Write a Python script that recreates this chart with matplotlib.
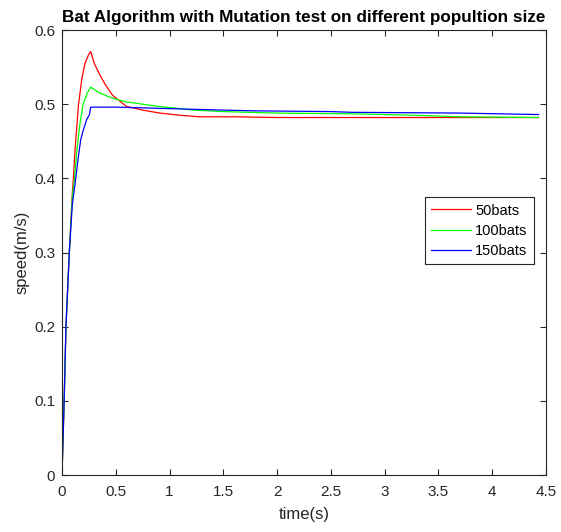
import matplotlib
matplotlib.use("Agg")
import matplotlib.pyplot as plt

plt.rcParams['font.family'] = ['Liberation Sans', 'DejaVu Sans']

# 50 bats
t50 = [0, 0.02, 0.037, 0.068, 0.096, 0.105, 0.121, 0.152, 0.183, 0.214, 0.245, 0.267,
       0.3, 0.35, 0.4, 0.47, 0.6, 0.75, 0.91, 1.1, 1.28, 1.6, 2.0, 2.7, 3.0, 3.7, 4.43]
v50 = [0, 0.1, 0.2, 0.3, 0.38, 0.398, 0.438, 0.497, 0.533, 0.555, 0.566, 0.571,
       0.555, 0.54, 0.527, 0.512, 0.497, 0.492, 0.488, 0.485, 0.483, 0.483, 0.482,
       0.482, 0.482, 0.482, 0.482]

# 100 bats
t100 = [0, 0.02, 0.037, 0.068, 0.096, 0.115, 0.136, 0.167, 0.198, 0.235, 0.267, 0.35,
        0.47, 0.6, 0.9, 1.22, 1.5, 2.0, 2.7, 3.3, 3.7, 4.43]
v100 = [0, 0.1, 0.2, 0.3, 0.375, 0.398, 0.434, 0.474, 0.501, 0.515, 0.523, 0.515,
        0.508, 0.503, 0.497, 0.492, 0.49, 0.488, 0.487, 0.485, 0.483, 0.482]

# 150 bats
t150 = [0, 0.02, 0.037, 0.068, 0.096, 0.121, 0.152, 0.174, 0.198, 0.229, 0.255, 0.267,
        0.5, 1.0, 1.5, 1.8, 2.5, 2.7, 3.7, 4.43]
v150 = [0, 0.1, 0.2, 0.3, 0.365, 0.392, 0.429, 0.452, 0.465, 0.479, 0.486, 0.496,
        0.496, 0.494, 0.492, 0.491, 0.490, 0.489, 0.488, 0.486]

xticks = [0, 0.5, 1, 1.5, 2, 2.5, 3, 3.5, 4, 4.5]
xticklabels = ['0', '0.5', '1', '1.5', '2', '2.5', '3', '3.5', '4', '4.5']
yticks = [0, 0.1, 0.2, 0.3, 0.4, 0.5, 0.6]
yticklabels = ['0', '0.1', '0.2', '0.3', '0.4', '0.5', '0.6']

fig = plt.figure(figsize=(5.61, 5.32), dpi=100)
ax = fig.add_axes([0.1105, 0.1071, 0.8628, 0.8365])

ax.plot(t50, v50, color='#ff0000', lw=0.9, label='50bats')
ax.plot(t100, v100, color='#00ff00', lw=0.9, label='100bats')
ax.plot(t150, v150, color='#0000ff', lw=0.9, label='150bats')

ax.set_xlim(0, 4.5)
ax.set_ylim(0, 0.6)
ax.set_xticks(xticks)
ax.set_xticklabels(xticklabels)
ax.set_yticks(yticks)
ax.set_yticklabels(yticklabels)
ax.tick_params(direction='in', top=True, right=True, labelsize=11,
               colors='#262626', length=4, width=0.8)
ax.tick_params(axis='x', pad=7)
ax.tick_params(axis='y', pad=5)
for s in ax.spines.values():
    s.set_color('#262626')
    s.set_linewidth(0.8)

ax.set_xlabel('time(s)', fontsize=12, color='#262626', labelpad=6)
ax.set_ylabel('speed(m/s)', fontsize=12, color='#262626', labelpad=3)
ax.set_title('Bat Algorithm with Mutation test on different popultion size',
             fontsize=12.3, fontweight='bold', pad=6)

leg = ax.legend(loc='upper right', bbox_to_anchor=(0.952, 0.6297),
                bbox_transform=fig.transFigure, fancybox=False, framealpha=1,
                edgecolor='#262626', fontsize=10.5, handlelength=2.7,
                borderpad=0.45, labelspacing=0.42, handletextpad=0.3,
                borderaxespad=0)
leg.get_frame().set_linewidth(0.8)

fig.savefig('out.png', dpi=100)
